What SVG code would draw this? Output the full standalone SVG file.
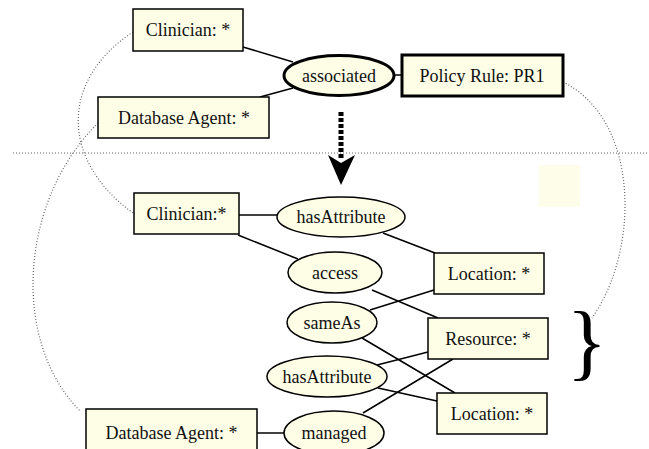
<svg xmlns="http://www.w3.org/2000/svg" width="649" height="449" viewBox="0 0 649 449">
<style>
.box{fill:#fefde6;stroke:#000;stroke-width:1.5}
.ell{fill:#fefde6;stroke:#000;stroke-width:1.5}
.thick{stroke-width:3}
.t{font-family:"Liberation Serif","Times New Roman",serif;font-size:18px;fill:#111;text-anchor:middle}
.c{stroke:#000;stroke-width:1.5;fill:none}
.dot{stroke:#666;stroke-width:1.2;fill:none;stroke-dasharray:1 2}
</style>
<rect width="649" height="449" fill="#fff"/>
<rect x="539" y="165" width="41" height="42" fill="#fefde9"/>
<line class="dot" x1="13" y1="153" x2="649" y2="153"/>
<g id="connectors">
<line class="c" x1="243" y1="47" x2="293" y2="62"/>
<line class="c" x1="260" y1="97" x2="293" y2="88"/>
<line class="c" x1="395" y1="75" x2="402" y2="75"/>
<line class="c" x1="239" y1="215" x2="277" y2="215"/>
<line class="c" x1="238" y1="235" x2="298" y2="259"/>
<line class="c" x1="383" y1="233" x2="435" y2="253"/>
<line class="c" x1="372" y1="290" x2="438" y2="318"/>
<line class="c" x1="370" y1="310" x2="434" y2="290"/>
<line class="c" x1="362" y1="338" x2="455" y2="393"/>
<line class="c" x1="377" y1="365" x2="428" y2="352"/>
<line class="c" x1="378" y1="388" x2="437" y2="401"/>
<line class="c" x1="363" y1="413" x2="453" y2="359"/>
<line class="c" x1="257" y1="433" x2="284" y2="433"/>
<path class="dot" d="M133,32 C60,80 60,160 133,213"/>
<path class="dot" d="M98,123 C20,200 10,340 80,411"/>
<path class="dot" d="M563,82 C640,120 640,250 592,318"/>
<line x1="341" y1="112" x2="341" y2="158" stroke="#000" stroke-width="5" stroke-dasharray="4 2"/>
<polygon points="328,155 341,163 355,155 341,185" fill="#000"/>
</g>
<g id="n_clin1"><rect class="box" x="133" y="9" width="110" height="42"/><text class="t" x="188" y="36">Clinician: *</text></g>
<g id="n_db1"><rect class="box" x="98" y="97" width="171" height="41"/><text class="t" x="184" y="124">Database Agent: *</text></g>
<g id="n_assoc"><ellipse class="ell thick" cx="339" cy="75.5" rx="55" ry="20"/><text class="t" x="339" y="81.5">associated</text></g>
<g id="n_pr1"><rect class="box thick" x="402" y="55" width="161" height="41"/><text class="t" x="482" y="81.5">Policy Rule: PR1</text></g>
<g id="n_clin2"><rect class="box" x="134" y="193" width="105" height="41"/><text class="t" x="186.5" y="219.5">Clinician:*</text></g>
<g id="n_hasattr1"><ellipse class="ell" cx="341" cy="217" rx="64" ry="20"/><text class="t" x="341" y="223">hasAttribute</text></g>
<g id="n_access"><ellipse class="ell" cx="335" cy="272.5" rx="47" ry="20.5"/><text class="t" x="335" y="278.5">access</text></g>
<g id="n_loc1"><rect class="box" x="434" y="253" width="110" height="41"/><text class="t" x="489" y="279.5">Location: *</text></g>
<g id="n_sameas"><ellipse class="ell" cx="332" cy="322.5" rx="45" ry="20.5"/><text class="t" x="332" y="328.5">sameAs</text></g>
<g id="n_res"><rect class="box" x="428" y="318" width="120" height="41"/><text class="t" x="488" y="344.5">Resource: *</text></g>
<g id="n_hasattr2"><ellipse class="ell" cx="327" cy="376.5" rx="60" ry="20.5"/><text class="t" x="327" y="382.5">hasAttribute</text></g>
<g id="n_loc2"><rect class="box" x="437" y="393" width="110" height="41"/><text class="t" x="492" y="419.5">Location: *</text></g>
<g id="n_db2"><rect class="box" x="86" y="409" width="171" height="45"/><text class="t" x="171.5" y="439">Database Agent: *</text></g>
<g id="n_managed"><ellipse class="ell" cx="334" cy="433" rx="50" ry="22"/><text class="t" x="334" y="439">managed</text></g>
<text x="587" y="370" font-family="Liberation Serif, serif" font-size="84" text-anchor="middle" fill="#000">}</text>
</svg>
